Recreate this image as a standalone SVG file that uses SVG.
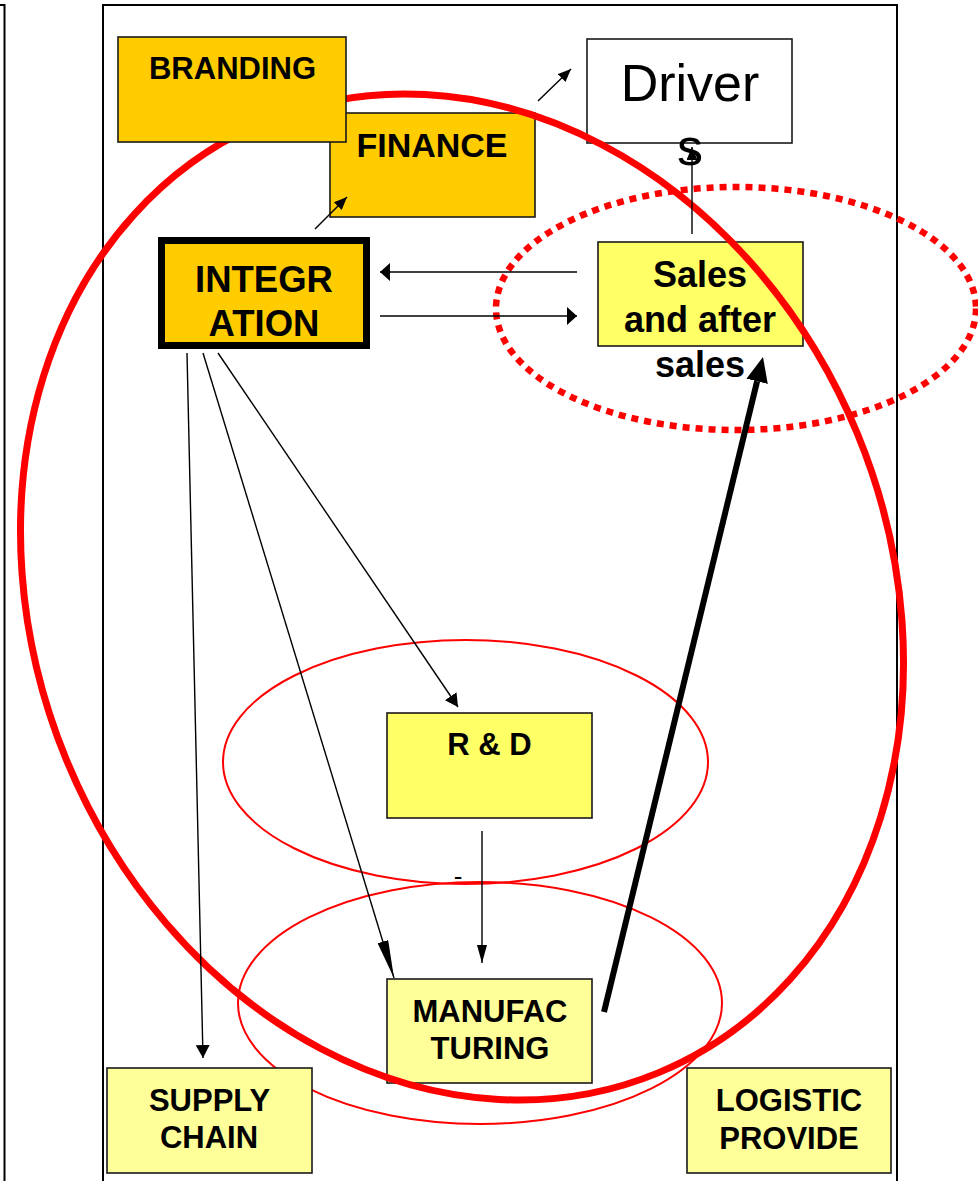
<svg xmlns="http://www.w3.org/2000/svg" width="978" height="1181" viewBox="0 0 978 1181">
  <style>
    .box { stroke: #1a1a1a; stroke-width: 1.6; }
    .gold { fill: #FFCC00; }
    .lemon { fill: #FFFF66; }
    .pale { fill: #FFFF99; }
    .lbl { font-family: "Liberation Sans", Arial, sans-serif; font-weight: bold; fill: #000; text-anchor: middle; }
    .reg { font-family: "Liberation Sans", Arial, sans-serif; fill: #000; text-anchor: middle; }
    .frame { fill: none; stroke: #000; stroke-width: 2; }
    .wire { fill: none; stroke: #000; stroke-width: 1.4; }
    .ring { fill: none; stroke: #FF0000; }
  </style>
  <defs>
    <marker id="head-wide" markerUnits="userSpaceOnUse" markerWidth="12" markerHeight="20" refX="10" refY="9" orient="auto">
      <path d="M0,0 L10,9 L0,18 z" fill="#000"/>
    </marker>
    <marker id="head-small" markerUnits="userSpaceOnUse" markerWidth="15" markerHeight="12" refX="13" refY="5.5" orient="auto">
      <path d="M0,0 L13,5.5 L0,11 z" fill="#000"/>
    </marker>
    <marker id="head-narrow" markerUnits="userSpaceOnUse" markerWidth="20" markerHeight="12" refX="18" refY="5" orient="auto">
      <path d="M0,0 L18,5 L0,10 z" fill="#000"/>
    </marker>
    <marker id="head-dart" markerUnits="userSpaceOnUse" markerWidth="40" markerHeight="14" refX="38" refY="5.5" orient="auto">
      <path d="M0,0 L38,5.5 L0,11 z" fill="#000"/>
    </marker>
    <marker id="head-mid" markerUnits="userSpaceOnUse" markerWidth="16" markerHeight="16" refX="13" refY="7" orient="auto">
      <path d="M0,0 L13,7 L0,14 z" fill="#000"/>
    </marker>
    <marker id="head-bold" markerUnits="userSpaceOnUse" markerWidth="28" markerHeight="24" refX="0" refY="11" orient="auto">
      <path d="M0,0 L25,11 L0,22 z" fill="#000"/>
    </marker>
  </defs>

  <!-- page frame -->
  <g id="frame">
    <path class="frame" d="M0,5 H4.5 V1181"/>
    <path class="frame" d="M103,1181 V5 H897 V1181" stroke-width="1.8"/>
  </g>

  <!-- nodes under the rings -->
  <g id="finance">
    <rect class="box gold" x="330" y="113" width="205" height="104"/>
    <text class="lbl" x="432" y="157" font-size="34">FINANCE</text>
  </g>
  <g id="integration">
    <rect class="gold" x="161.5" y="240.5" width="205" height="105" stroke="#000" stroke-width="7"/>
    <text class="lbl" x="264" y="292" font-size="36.5">INTEGR</text>
    <text class="lbl" x="264" y="336" font-size="36.5">ATION</text>
  </g>
  <g id="drivers">
    <rect class="box" x="587" y="39" width="205" height="104" fill="#FFFFFF"/>
    <text class="reg" x="690" y="101" font-size="52">Driver</text>
    <text class="reg" x="690" y="165" font-size="52">s</text>
  </g>
  <g id="sales">
    <rect class="box lemon" x="598" y="242" width="205" height="104"/>
    <text class="lbl" x="700" y="287" font-size="36">Sales</text>
    <text class="lbl" x="700" y="332" font-size="36">and after</text>
    <text class="lbl" x="700" y="377" font-size="36">sales</text>
  </g>
  <g id="rnd">
    <rect class="box lemon" x="387" y="713" width="205" height="105"/>
    <text class="lbl" x="489.5" y="755" font-size="31">R &amp; D</text>
  </g>
  <g id="manufacturing">
    <rect class="box pale" x="387" y="979" width="205" height="104"/>
    <text class="lbl" x="490" y="1022" font-size="31">MANUFAC</text>
    <text class="lbl" x="490" y="1059" font-size="31">TURING</text>
  </g>

  <!-- grouping rings -->
  <g id="rings">
    <ellipse class="ring" cx="462" cy="597" rx="427.8" ry="514.7" transform="rotate(-22.4 462 597)" stroke-width="7"/>
    <ellipse class="ring" cx="736" cy="308.5" rx="240" ry="121.5" stroke-width="6.5" stroke-dasharray="7 6"/>
    <ellipse class="ring" cx="465.5" cy="762" rx="242.5" ry="122" stroke-width="2"/>
    <ellipse class="ring" cx="480" cy="1003" rx="242" ry="121" stroke-width="2"/>
  </g>

  <!-- connectors -->
  <g id="connectors">
    <line class="wire" x1="315" y1="229" x2="347" y2="197" marker-end="url(#head-small)"/>
    <line class="wire" x1="538" y1="101" x2="571" y2="69" marker-end="url(#head-small)"/>
    <line class="wire" x1="692" y1="234" x2="692" y2="147" marker-end="url(#head-small)"/>
    <line class="wire" x1="577" y1="272" x2="380" y2="272" marker-end="url(#head-wide)"/>
    <line class="wire" x1="380" y1="316" x2="577" y2="316" marker-end="url(#head-wide)"/>
    <line class="wire" x1="218" y1="353" x2="458" y2="707" marker-end="url(#head-mid)"/>
    <line class="wire" x1="203" y1="353" x2="394" y2="978" marker-end="url(#head-dart)"/>
    <line class="wire" x1="187" y1="353" x2="203" y2="1058" marker-end="url(#head-mid)"/>
    <line class="wire" x1="482" y1="831" x2="482" y2="963" marker-end="url(#head-narrow)"/>
    <line x1="604" y1="1012" x2="757.1" y2="381.3" stroke="#000" stroke-width="6" marker-end="url(#head-bold)"/>
    <text class="reg" x="458" y="885" font-size="26">-</text>
  </g>

  <!-- nodes over the rings -->
  <g id="branding">
    <rect class="box gold" x="118" y="37" width="228" height="105"/>
    <text class="lbl" x="232.5" y="79" font-size="31">BRANDING</text>
  </g>
  <g id="supply-chain">
    <rect class="box pale" x="107" y="1068" width="205" height="105"/>
    <text class="lbl" x="209.5" y="1111" font-size="31">SUPPLY</text>
    <text class="lbl" x="209" y="1148" font-size="31">CHAIN</text>
  </g>
  <g id="logistic-provider">
    <rect class="box pale" x="687" y="1068" width="204" height="105"/>
    <text class="lbl" x="789" y="1111" font-size="31">LOGISTIC</text>
    <text class="lbl" x="789" y="1149" font-size="31">PROVIDE</text>
  </g>
</svg>
